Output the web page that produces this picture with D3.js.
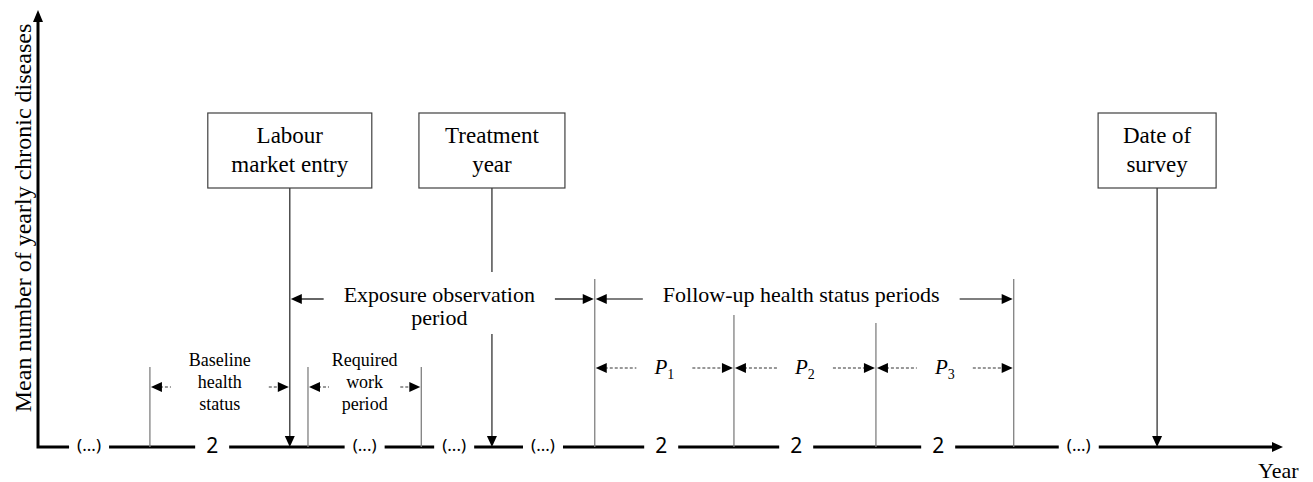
<!DOCTYPE html>
<html>
<head>
<meta charset="utf-8">
<script src="https://cdn.jsdelivr.net/npm/d3@7"></script>
<style>
  body { margin: 0; background: #fff; }
  svg { display: block; }
  text { font-family: "Liberation Serif", "Times New Roman", serif; fill: #000; }
</style>
</head>
<body>
<svg></svg>
<script>
// timeline is in years counted from the origin of the axis
const axisLabels = ['(...)', '2', '(...)', '(...)', '(...)', '2', '2', '2', '(...)']
const axisLabelYears = [0.73, 2.49, 4.67, 5.95, 7.22, 8.91, 10.84, 12.87, 14.88]

const eventNames = [['Labour', 'market entry'], ['Treatment', 'year'], ['Date of', 'survey']]
const eventYears = [3.6, 6.49, 16.0]

const boundaryYears = [1.6, 3.86, 5.48, 7.96, 9.95, 11.98, 13.95]

const periodNames = [['Exposure observation', 'period'], ['Follow-up health status periods']]
const periodStart = [3.6, 7.96]
const periodEnd = [7.96, 13.95]

const subPeriodNames = [['Baseline', 'health', 'status'], ['Required', 'work', 'period']]
const subPeriodStart = [1.6, 3.86]
const subPeriodEnd = [3.6, 5.48]

const followUpIndex = ['1', '2', '3']
const followUpStart = [7.96, 9.95, 11.98]
const followUpEnd = [9.95, 11.98, 13.95]

const yearMax = 17.8
const yTitle = 'Mean number of yearly chronic diseases'
const xTitle = 'Year'

const width = 1313
const height = 482
const originX = 38
const axisEnd = 1283
const axisY = 447
const axisTop = 10

// layout of the annotation rows
const boxTop = 113
const boxBottom = 188
const boxWidths = [164, 146, 118]
const boundaryTops = [367, 367, 367, 279, 315, 323, 279]
const periodY = 299
const followY = 368
const subY = 387

let xScale

const svg = d3.select('svg')

let drawCanvas = () => {
    svg.attr('width', width)
    svg.attr('height', height)
}

let generateScales = () => {
    xScale = d3.scaleLinear()
                .domain([0, yearMax])
                .range([originX, axisEnd])
}

// filled triangle with its tip at (x, y)
let head = (g, x, y, dir, len = 11, half = 5) => {
    let pts
    if (dir === 'left') pts = [[x, y], [x + len, y - half], [x + len, y + half]]
    if (dir === 'right') pts = [[x, y], [x - len, y - half], [x - len, y + half]]
    if (dir === 'down') pts = [[x, y], [x - half, y - len], [x + half, y - len]]
    if (dir === 'up') pts = [[x, y], [x - half, y + len], [x + half, y + len]]
    g.append('polygon')
        .attr('points', pts.map(p => p.join(',')).join(' '))
        .attr('fill', '#000')
}

let drawAxes = () => {
    let g = svg.append('g').attr('id', 'axes')

    let gaps = axisLabels.map((label, i) => {
        let half = label === '2' ? 17 : 20
        return [xScale(axisLabelYears[i]) - half, xScale(axisLabelYears[i]) + half]
    })

    // y axis and first piece of the x axis as one path, so the corner is square
    g.append('path')
        .attr('d', 'M' + originX + ',' + (axisTop + 10) + 'V' + axisY + 'H' + gaps[0][0])
        .attr('fill', 'none')
        .attr('stroke', '#000')
        .attr('stroke-width', 3)
    head(g, originX, axisTop, 'up', 12, 5)

    let segs = []
    for (let i = 0; i < gaps.length - 1; i++) segs.push([gaps[i][1], gaps[i + 1][0]])
    segs.push([gaps[gaps.length - 1][1], axisEnd - 9])

    g.selectAll('line.seg')
        .data(segs)
        .enter()
        .append('line')
        .attr('class', 'seg')
        .attr('x1', d => d[0])
        .attr('x2', d => d[1])
        .attr('y1', axisY)
        .attr('y2', axisY)
        .attr('stroke', '#000')
        .attr('stroke-width', 3)
    head(g, axisEnd, axisY, 'right', 11, 5)

    g.selectAll('text.tick')
        .data(axisLabels)
        .enter()
        .append('text')
        .attr('class', 'tick')
        .attr('x', (d, i) => xScale(axisLabelYears[i]))
        .attr('y', d => d === '2' ? 453 : 451)
        .attr('text-anchor', 'middle')
        .style('font-family', '"Noto Sans", sans-serif')
        .style('font-size', d => d === '2' ? '21px' : '17px')
        .text(d => d)

    g.append('text')
        .attr('transform', 'translate(31, 218) rotate(-90)')
        .attr('text-anchor', 'middle')
        .style('font-size', '24px')
        .text(yTitle)

    g.append('text')
        .attr('x', 1258)
        .attr('y', 478)
        .style('font-size', '22px')
        .text(xTitle)
}

let drawBoundaries = () => {
    svg.append('g')
        .selectAll('line')
        .data(boundaryYears)
        .enter()
        .append('line')
        .attr('x1', d => xScale(d))
        .attr('x2', d => xScale(d))
        .attr('y1', (d, i) => boundaryTops[i])
        .attr('y2', axisY)
        .attr('stroke', '#808080')
        .attr('stroke-width', 1.3)
}

let drawEvents = () => {
    let g = svg.append('g').attr('id', 'events')
    eventYears.forEach((yr, i) => {
        let cx = xScale(yr)
        g.append('line')
            .attr('x1', cx).attr('x2', cx)
            .attr('y1', boxBottom).attr('y2', axisY - 10)
            .attr('stroke', '#333')
            .attr('stroke-width', 1.3)
        head(g, cx, axisY, 'down', 11, 5)

        g.append('rect')
            .attr('x', cx - boxWidths[i] / 2)
            .attr('y', boxTop)
            .attr('width', boxWidths[i])
            .attr('height', boxBottom - boxTop)
            .attr('fill', '#fff')
            .attr('stroke', '#404040')
            .attr('stroke-width', 1.2)

        eventNames[i].forEach((line, j) => {
            g.append('text')
                .attr('x', cx)
                .attr('y', 143 + j * 29)
                .attr('text-anchor', 'middle')
                .style('font-size', '23px')
                .text(line)
        })
    })
}

let drawPeriods = () => {
    let g = svg.append('g').attr('id', 'periods')
    periodNames.forEach((lines, i) => {
        let xs = xScale(periodStart[i])
        let xe = xScale(periodEnd[i])
        let cx = (xs + xe) / 2 - 3

        let texts = lines.map((line, j) => g.append('text')
            .attr('x', cx)
            .attr('y', periodY + 3 + j * 23)
            .attr('text-anchor', 'middle')
            .style('font-size', '22px')
            .text(line))
        let w = texts[0].node().getComputedTextLength()

        // white patch so the treatment line breaks around the label
        g.insert('rect', 'text')
            .attr('x', cx - w / 2 - 4)
            .attr('y', periodY - 27)
            .attr('width', w + 8)
            .attr('height', 39 + 23 * (lines.length - 1))
            .attr('fill', '#fff')

        let gap = w / 2 + 20
        g.append('line')
            .attr('x1', xs + 10).attr('x2', cx - gap)
            .attr('y1', periodY).attr('y2', periodY)
            .attr('stroke', '#000').attr('stroke-width', 1.2)
        head(g, xs + 1, periodY, 'left', 11, 5)
        g.append('line')
            .attr('x1', cx + gap).attr('x2', xe - 10)
            .attr('y1', periodY).attr('y2', periodY)
            .attr('stroke', '#000').attr('stroke-width', 1.2)
        head(g, xe - 1, periodY, 'right', 11, 5)
    })
}

let dashedArrows = (g, xs, xe, y, len) => {
    g.append('line')
        .attr('x1', xs + 10).attr('x2', xs + len)
        .attr('y1', y).attr('y2', y)
        .attr('stroke', '#333').attr('stroke-width', 1)
        .attr('stroke-dasharray', '3,2')
    head(g, xs + 1, y, 'left', 11, 5)
    g.append('line')
        .attr('x1', xe - len).attr('x2', xe - 10)
        .attr('y1', y).attr('y2', y)
        .attr('stroke', '#333').attr('stroke-width', 1)
        .attr('stroke-dasharray', '3,2')
    head(g, xe - 1, y, 'right', 11, 5)
}

let drawSubPeriods = () => {
    let g = svg.append('g').attr('id', 'sub-periods')
    subPeriodNames.forEach((lines, i) => {
        let xs = xScale(subPeriodStart[i])
        let xe = xScale(subPeriodEnd[i])
        lines.forEach((line, j) => {
            g.append('text')
                .attr('x', (xs + xe) / 2)
                .attr('y', 366 + j * 22)
                .attr('text-anchor', 'middle')
                .style('font-size', '18px')
                .text(line)
        })
        dashedArrows(g, xs, xe, subY, 21)
    })

    followUpIndex.forEach((k, i) => {
        let xs = xScale(followUpStart[i])
        let xe = xScale(followUpEnd[i])
        let cx = (xs + xe) / 2
        let t = g.append('text')
            .attr('x', cx)
            .attr('y', 374)
            .attr('text-anchor', 'middle')
            .style('font-size', '21px')
            .style('font-style', 'italic')
        t.append('tspan').text('P')
        t.append('tspan')
            .attr('dy', 5)
            .style('font-size', '14px')
            .style('font-style', 'normal')
            .text(k)
        dashedArrows(g, xs, xe, followY, (xe - xs) / 2 - 28)
    })
}

drawCanvas()
generateScales()
drawAxes()
drawBoundaries()
drawEvents()
drawPeriods()
drawSubPeriods()
</script>
</body>
</html>
